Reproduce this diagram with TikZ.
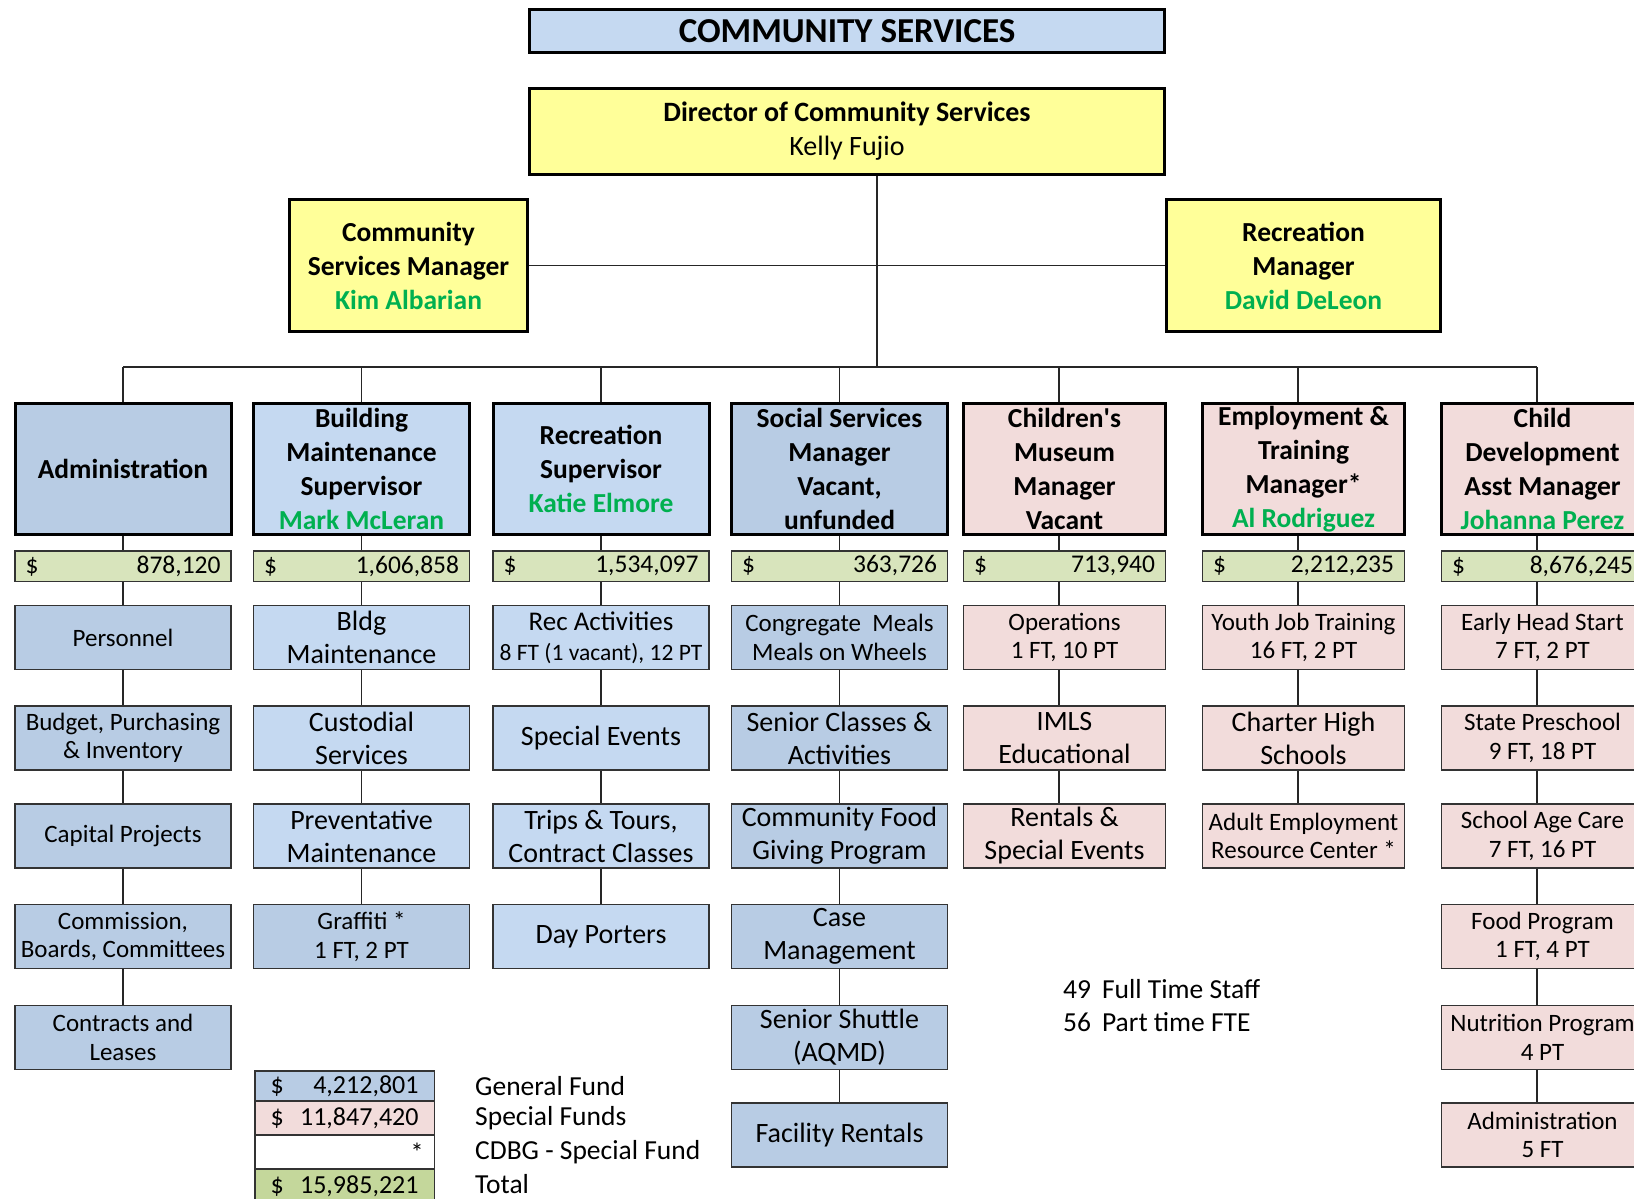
\documentclass[tikz,border=0pt]{standalone}
\usepackage{fontspec}
\setmainfont{Carlito}
\usetikzlibrary{positioning}

\definecolor{blueDark}{RGB}{184,204,228}
\definecolor{blueLight}{RGB}{197,217,241}
\definecolor{pinkFund}{RGB}{242,220,219}
\definecolor{yellowMgr}{RGB}{255,255,153}
\definecolor{greenMoney}{RGB}{216,228,188}
\definecolor{greenTotal}{RGB}{196,215,155}
\definecolor{greenName}{RGB}{0,176,80}

\newcommand\who[1]{\textcolor{greenName}{#1}}
\newcommand\amount[2]{\makebox[#1]{\$\hfill#2}}

\tikzset{
    every node/.style={inner sep=0pt, align=center},
    title/.style={draw, line width=2.5pt, fill=blueLight, minimum width=635pt, minimum height=43pt, font=\fontsize{35}{38}\selectfont\bfseries},
    boss/.style={draw, line width=3pt, fill=yellowMgr, font=\fontsize{27.5}{34}\selectfont\bfseries},
    head/.style={draw, line width=3pt, minimum width=216pt, minimum height=131pt, font=\fontsize{27.5}{34}\selectfont\bfseries},
    narrow/.style={minimum width=202pt},
    money/.style={draw=black!80, line width=1.5pt, fill=greenMoney, minimum width=216pt, minimum height=30.5pt, font=\fontsize{25.5}{28}\selectfont},
    sub/.style={draw=black!80, line width=1.5pt, minimum width=216pt, minimum height=64pt, font=\fontsize{28}{33}\selectfont},
    sm/.style={font=\fontsize{25}{28.5}\selectfont},
    fund/.style={draw=black!80, line width=1.5pt, minimum width=179.5pt, font=\fontsize{26}{28}\selectfont},
    note/.style={anchor=west, font=\fontsize{27.5}{30}\selectfont},
    link/.style={line width=1.5pt, draw=black!85},
    shifted/.style={xshift=-5.5pt}
}

\begin{document}
\begin{tikzpicture}[x=1pt,y=-1pt]
  \useasboundingbox (0,0) rectangle (1634,1199);
  \clip (0,0) rectangle (1634,1199);

  % top of the chart
  \node[title] (ttl) at (847,31) {COMMUNITY SERVICES};
  \node[boss, minimum width=635pt, minimum height=86pt, font=\fontsize{28}{34}\selectfont\bfseries] (dir) at (847,131.5) {Director of Community Services\\\mdseries Kelly Fujio};
  \node[boss, minimum width=238pt, minimum height=132pt] (csm) at (408.5,265.5) {Community\\Services Manager\\\who{Kim Albarian}};
  \node[boss, minimum width=274pt, minimum height=132pt] (recm) at (1303.5,265.5) {Recreation\\Manager\\\who{David DeLeon}};

  % division heads
  \node[head, fill=blueDark] (h1) at (123,469) {Administration};
  \node[head, fill=blueLight] (h2) at (361.5,469) {Building\\Maintenance\\Supervisor\\\who{Mark McLeran}};
  \node[head, fill=blueLight] (h3) at (601,469) {Recreation\\Supervisor\\\who{Katie Elmore}};
  \node[head, fill=blueDark] (h4) at (839.5,469) {Social Services\\Manager\\Vacant,\\unfunded};
  \node[head, narrow, fill=pinkFund] (h5) at (1064.5,469) {Children\textquotesingle s\\Museum\\Manager\\Vacant};
  \node[head, narrow, fill=pinkFund] (h6) at (1303.5,469) {Employment \&\\Training\\Manager*\\\who{Al Rodriguez}};
  \node[head, narrow, fill=pinkFund] (h7) at (1542.5,469) {Child\\Development\\Asst Manager\\\who{Johanna Perez}};

  % budgets
  \node[money] (m1) at (123,566) {\amount{195pt}{878,120}};
  \node[money] (m2) at (361.5,566) {\amount{195pt}{1,606,858}};
  \node[money] (m3) at (601,566) {\amount{195pt}{1,534,097}};
  \node[money] (m4) at (839.5,566) {\amount{195pt}{363,726}};
  \node[money, narrow] (m5) at (1064.5,566) {\amount{181pt}{713,940}};
  \node[money, narrow] (m6) at (1303.5,566) {\amount{181pt}{2,212,235}};
  \node[money, narrow] (m7) at (1542.5,566) {\amount{181pt}{8,676,245}};

  % administration
  \node[sub, sm, fill=blueDark] (a1) at (123,637.5) {Personnel};
  \node[sub, sm, fill=blueDark] (a2) at (123,738) {Budget, Purchasing\\\& Inventory};
  \node[sub, sm, fill=blueDark] (a3) at (123,836) {Capital Projects};
  \node[sub, sm, fill=blueDark] (a4) at (123,936.5) {Commission,\\Boards, Committees};
  \node[sub, sm, fill=blueDark] (a5) at (123,1037.5) {Contracts and\\Leases};

  % building maintenance
  \node[sub, fill=blueLight] (b1) at (361.5,637.5) {Bldg\\Maintenance};
  \node[sub, fill=blueLight] (b2) at (361.5,738) {Custodial\\Services};
  \node[sub, fill=blueLight] (b3) at (361.5,836) {Preventative\\Maintenance};
  \node[sub, sm, fill=blueDark] (b4) at (361.5,936.5) {Graffiti *\\1 FT, 2 PT};

  % recreation
  \node[sub, fill=blueLight, font=\fontsize{23.5}{30}\selectfont] (r1) at (601,637.5) {{\fontsize{27}{30}\selectfont Rec Activities}\\8 FT (1 vacant), 12 PT};
  \node[sub, fill=blueLight] (r2) at (601,738) {Special Events};
  \node[sub, fill=blueLight] (r3) at (601,836) {Trips \& Tours,\\Contract Classes};
  \node[sub, fill=blueLight] (r4) at (601,936.5) {Day Porters};

  % social services
  \node[sub, sm, fill=blueDark] (s1) at (839.5,637.5) {Congregate\ \ Meals\\Meals on Wheels};
  \node[sub, fill=blueDark] (s2) at (839.5,738) {Senior Classes \&\\Activities};
  \node[sub, fill=blueDark] (s3) at (839.5,836) {Community Food\\Giving Program};
  \node[sub, fill=blueDark] (s4) at (839.5,936.5) {Case\\Management};
  \node[sub, fill=blueDark] (s5) at (839.5,1037.5) {Senior Shuttle\\(AQMD)};
  \node[sub, fill=blueDark] (s6) at (839.5,1135) {Facility Rentals};

  % children's museum
  \node[sub, sm, narrow, fill=pinkFund] (c1) at (1064.5,637.5) {Operations\\1 FT, 10 PT};
  \node[sub, narrow, fill=pinkFund] (c2) at (1064.5,738) {IMLS\\Educational};
  \node[sub, narrow, fill=pinkFund] (c3) at (1064.5,836) {Rentals \&\\Special Events};

  % employment and training
  \node[sub, sm, narrow, fill=pinkFund] (e1) at (1303.5,637.5) {Youth Job Training\\16 FT, 2 PT};
  \node[sub, narrow, fill=pinkFund] (e2) at (1303.5,738) {Charter High\\Schools};
  \node[sub, sm, narrow, fill=pinkFund] (e3) at (1303.5,836) {Adult Employment\\Resource Center *};

  % child development
  \node[sub, sm, narrow, fill=pinkFund] (d1) at (1542.5,637.5) {Early Head Start\\7 FT, 2 PT};
  \node[sub, sm, narrow, fill=pinkFund] (d2) at (1542.5,738) {State Preschool\\9 FT, 18 PT};
  \node[sub, sm, narrow, fill=pinkFund] (d3) at (1542.5,836) {School Age Care\\7 FT, 16 PT};
  \node[sub, sm, narrow, fill=pinkFund] (d4) at (1542.5,936.5) {Food Program\\1 FT, 4 PT};
  \node[sub, sm, narrow, fill=pinkFund] (d5) at (1542.5,1037.5) {Nutrition Program\\4 PT};
  \node[sub, sm, narrow, fill=pinkFund] (d6) at (1542.5,1135) {Administration\\5 FT};

  % funds legend
  \node[fund, fill=blueDark, minimum height=30pt] (lg1) at (344.5,1086) {\amount{148pt}{4,212,801}};
  \node[fund, fill=pinkFund, minimum height=34pt] (lg2) at (344.5,1118) {\amount{148pt}{11,847,420}};
  \node[fund, fill=white, minimum height=34pt] (lg3) at (344.5,1152) {\makebox[158pt]{\hfill*}};
  \node[fund, fill=greenTotal, minimum height=34pt] (lg4) at (344.5,1186) {\amount{148pt}{15,985,221}};
  \node[note, right=40pt of lg1] (lb1) {General Fund};
  \node[note, right=40pt of lg2] (lb2) {Special Funds};
  \node[note, right=40pt of lg3] (lb3) {CDBG - Special Fund};
  \node[note, right=40pt of lg4, yshift=2pt] (lb4) {Total};

  % staff count
  \node[note] (ft) at (1063,989) {49\hspace{11pt}Full Time Staff};
  \node[note] (pt) at (1063,1022) {56\hspace{11pt}Part time FTE};

  % connectors
  \coordinate (bus) at (877,367);
  \draw[link] (csm.east) -- (recm.west);
  \draw[link] (dir.south -| bus) -- (bus);
  \draw[link] (h1.north |- bus) -- ([shifted]h7.north |- bus);
  \draw[link] (h1.north) -- (h1.north |- bus)  (h2.north) -- (h2.north |- bus)
              (h3.north) -- (h3.north |- bus)  (h4.north) -- (h4.north |- bus)
              ([shifted]h5.north) -- ([shifted]h5.north |- bus)
              ([shifted]h6.north) -- ([shifted]h6.north |- bus)
              ([shifted]h7.north) -- ([shifted]h7.north |- bus);

  \draw[link] (h1) -- (m1)  (m1) -- (a1)  (a1) -- (a2)  (a2) -- (a3)  (a3) -- (a4)  (a4) -- (a5);
  \draw[link] (h2) -- (m2)  (m2) -- (b1)  (b1) -- (b2)  (b2) -- (b3)  (b3) -- (b4);
  \draw[link] (h3) -- (m3)  (m3) -- (r1)  (r1) -- (r2)  (r2) -- (r3)  (r3) -- (r4);
  \draw[link] (h4) -- (m4)  (m4) -- (s1)  (s1) -- (s2)  (s2) -- (s3)  (s3) -- (s4)  (s4) -- (s5)  (s5) -- (s6);
  \foreach \u/\v in {h5/m5, m5/c1, c1/c2, c2/c3, h6/m6, m6/e1, e1/e2, e2/e3,
                     h7/m7, m7/d1, d1/d2, d2/d3, d3/d4, d4/d5, d5/d6}
    \draw[link] ([shifted]\u.south) -- ([shifted]\v.north);
\end{tikzpicture}
\end{document}
